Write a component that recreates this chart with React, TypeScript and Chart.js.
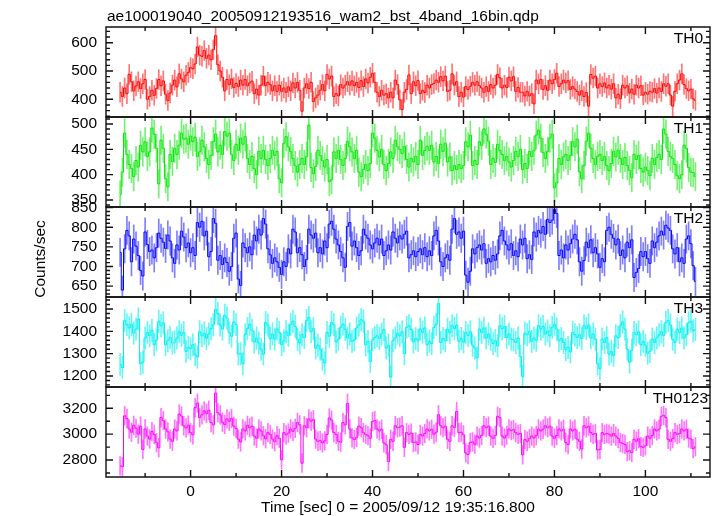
import React, { useEffect, useRef } from 'react';
import { Chart, registerables } from 'chart.js';

Chart.register(...registerables);

const TITLE = 'ae100019040_20050912193516_wam2_bst_4band_16bin.qdp';
const X_TITLE = 'Time [sec] 0 = 2005/09/12 19:35:16.800';
const Y_TITLE = 'Counts/sec';
const FAMILY = '"Liberation Sans", Arial, Helvetica, sans-serif';
const FONT_SIZE = 15.5;

// time grid: first bin centre and bin width (sec)
const T_START = -15.5;
const BIN = 0.5;
const X_MIN = -18.6;
const X_MAX = 114.2;
const xTicks = [0, 20, 40, 60, 80, 100];

const th0 = [
  425, 410, 440, 420, 488, 462, 430, 447, 462, 438,
  455, 470, 400, 410, 432, 414, 438, 470, 448, 465,
  418, 396, 422, 450, 468, 444, 490, 472, 462, 485,
  495, 512, 508, 525, 585, 556, 552, 572, 545, 556,
  540, 575, 625, 522, 500, 478, 430, 470, 452, 472,
  442, 456, 445, 468, 450, 470, 448, 458, 464, 420,
  436, 415, 450, 482, 448, 460, 452, 430, 448, 428,
  450, 428, 440, 425, 444, 430, 458, 440, 460, 432,
  358, 440, 455, 438, 460, 392, 405, 415, 432, 452,
  430, 488, 472, 482, 410, 420, 412, 452, 440, 450,
  462, 450, 465, 448, 460, 442, 466, 445, 472, 458,
  478, 492, 460, 425, 410, 432, 415, 420, 405, 425,
  405, 468, 452, 398, 364, 425, 435, 486, 420, 462,
  448, 466, 420, 432, 424, 450, 440, 452, 456, 468,
  460, 480, 465, 482, 428, 432, 490, 450, 462, 410,
  425, 408, 445, 435, 446, 460, 450, 462, 448, 440,
  425, 445, 428, 452, 440, 450, 488, 476, 440, 450,
  442, 478, 465, 480, 428, 442, 425, 425, 412, 428,
  412, 420, 384, 468, 455, 470, 435, 448, 432, 468,
  455, 470, 492, 445, 455, 468, 458, 466, 435, 445,
  436, 428, 415, 430, 410, 424, 376, 488, 475, 482,
  440, 455, 445, 458, 440, 450, 436, 455, 405, 418,
  402, 450, 440, 448, 422, 436, 418, 450, 440, 448,
  415, 425, 418, 428, 425, 438, 422, 440, 428, 455,
  446, 455, 415, 376, 428, 455, 468, 490, 452, 438,
  430, 436, 402, 396,
];

const th1 = [
  360, 405, 482, 440, 420, 412, 396, 428, 415, 458,
  445, 465, 436, 445, 492, 480, 452, 382, 468, 452,
  392, 376, 440, 426, 452, 440, 458, 482, 470, 472,
  460, 476, 465, 474, 436, 445, 468, 455, 432, 420,
  438, 465, 480, 445, 458, 440, 485, 476, 482, 440,
  428, 460, 448, 472, 460, 475, 432, 420, 436, 412,
  400, 446, 432, 448, 430, 418, 432, 448, 438, 446,
  392, 384, 462, 475, 455, 446, 432, 418, 405, 420,
  432, 420, 436, 498, 414, 402, 416, 448, 438, 428,
  415, 430, 386, 390, 445, 432, 448, 430, 418, 432,
  466, 455, 445, 432, 448, 405, 396, 410, 420, 408,
  422, 482, 472, 448, 435, 450, 420, 408, 422, 445,
  432, 468, 455, 450, 442, 456, 430, 415, 432, 425,
  436, 420, 468, 438, 448, 456, 448, 458, 425, 436,
  422, 460, 446, 462, 425, 435, 408, 418, 410, 420,
  412, 418, 465, 455, 478, 418, 428, 420, 465, 458,
  490, 480, 466, 420, 432, 424, 460, 448, 440, 428,
  436, 425, 415, 428, 446, 436, 450, 410, 422, 412,
  446, 436, 448, 478, 488, 472, 444, 432, 446, 472,
  480, 374, 384, 432, 420, 435, 440, 428, 438, 465,
  455, 470, 406, 392, 418, 466, 482, 452, 432, 420,
  436, 440, 428, 436, 418, 408, 422, 446, 435, 448,
  432, 420, 434, 418, 408, 394, 440, 430, 438, 412,
  405, 415, 408, 398, 432, 420, 434, 440, 430, 490,
  480, 446, 436, 432, 420, 398, 392, 400, 458, 452,
  414, 405, 404, 396,
];

const th2 = [
  736, 640, 745, 792, 778, 712, 770, 752, 728, 690,
  676, 788, 756, 738, 742, 722, 748, 785, 772, 762,
  746, 780, 765, 722, 708, 755, 742, 790, 775, 748,
  760, 735, 748, 728, 812, 800, 815, 778, 790, 725,
  738, 822, 810, 716, 728, 705, 722, 710, 688, 700,
  772, 785, 668, 652, 760, 748, 735, 750, 730, 780,
  765, 795, 780, 822, 808, 745, 730, 708, 722, 712,
  698, 680, 712, 700, 745, 732, 795, 788, 735, 748,
  730, 700, 718, 795, 780, 772, 785, 735, 748, 732,
  765, 748, 808, 815, 795, 770, 755, 738, 722, 698,
  802, 812, 752, 765, 748, 728, 740, 795, 780, 772,
  755, 745, 760, 772, 755, 770, 728, 740, 755, 742,
  788, 772, 760, 778, 770, 782, 790, 722, 730, 740,
  725, 738, 745, 730, 748, 725, 740, 728, 778, 792,
  765, 712, 700, 722, 730, 716, 795, 822, 782, 788,
  772, 790, 678, 660, 688, 745, 732, 748, 755, 742,
  758, 708, 720, 712, 728, 716, 732, 778, 792, 765,
  755, 742, 758, 728, 740, 725, 770, 755, 772, 720,
  730, 718, 788, 775, 792, 785, 802, 782, 820, 812,
  818, 845, 835, 728, 742, 722, 755, 742, 758, 770,
  782, 768, 712, 688, 715, 762, 748, 768, 735, 748,
  732, 698, 720, 712, 792, 800, 782, 772, 755, 770,
  728, 742, 722, 762, 748, 768, 672, 685, 695, 738,
  725, 738, 720, 708, 765, 748, 762, 778, 790, 780,
  805, 798, 792, 745, 732, 748, 712, 722, 708, 770,
  778, 758, 702, 662,
];

const th3 = [
  1252, 1238, 1448, 1430, 1415, 1432, 1392, 1410, 1455, 1255,
  1262, 1370, 1395, 1380, 1405, 1340, 1362, 1445, 1425, 1438,
  1340, 1358, 1372, 1348, 1352, 1370, 1398, 1382, 1395, 1310,
  1328, 1322, 1340, 1296, 1285, 1398, 1380, 1392, 1368, 1388,
  1412, 1430, 1498, 1480, 1428, 1410, 1472, 1460, 1395, 1378,
  1442, 1430, 1298, 1300, 1255, 1385, 1412, 1432, 1405, 1352,
  1370, 1348, 1320, 1298, 1440, 1428, 1368, 1388, 1365, 1410,
  1395, 1340, 1358, 1398, 1382, 1430, 1445, 1422, 1365, 1348,
  1385, 1372, 1448, 1462, 1398, 1412, 1325, 1338, 1320, 1275,
  1258, 1395, 1378, 1440, 1430, 1352, 1365, 1418, 1432, 1408,
  1370, 1388, 1355, 1362, 1415, 1428, 1452, 1445, 1340, 1355,
  1265, 1362, 1372, 1380, 1368, 1388, 1408, 1325, 1338, 1195,
  1358, 1370, 1392, 1380, 1398, 1300, 1418, 1425, 1408, 1352,
  1368, 1360, 1410, 1395, 1415, 1340, 1356, 1345, 1418, 1432,
  1525, 1350, 1368, 1358, 1410, 1395, 1425, 1412, 1428, 1355,
  1368, 1352, 1395, 1382, 1398, 1338, 1325, 1282, 1410, 1395,
  1415, 1370, 1388, 1365, 1345, 1358, 1335, 1425, 1412, 1422,
  1372, 1388, 1365, 1362, 1350, 1370, 1288, 1198, 1392, 1385,
  1398, 1355, 1370, 1360, 1425, 1410, 1422, 1388, 1402, 1380,
  1418, 1432, 1410, 1358, 1368, 1350, 1318, 1328, 1308, 1395,
  1385, 1372, 1385, 1368, 1425, 1412, 1428, 1370, 1388, 1365,
  1255, 1232, 1365, 1350, 1372, 1298, 1310, 1292, 1380, 1372,
  1425, 1442, 1410, 1320, 1262, 1315, 1395, 1385, 1398, 1340,
  1355, 1338, 1302, 1310, 1365, 1350, 1370, 1385, 1398, 1382,
  1440, 1448, 1428, 1365, 1350, 1410, 1395, 1415, 1370, 1385,
  1438, 1445, 1402, 1408,
];

const th0123 = [
  2755, 2748, 3142, 3120, 3040, 3015, 3068, 3045, 3000, 3062,
  2882, 3040, 2985, 2962, 3020, 2998, 2935, 2895, 3128, 3105,
  3040, 3018, 2962, 2945, 3040, 3025, 3155, 3140, 3065, 3048,
  3070, 3012, 2995, 3205, 3240, 3128, 3150, 3180, 3160, 3185,
  3090, 3072, 3318, 3165, 3150, 3092, 3075, 3118, 3100, 3122,
  3062, 3045, 2962, 2940, 3040, 3025, 3068, 3050, 3062, 2985,
  2968, 3040, 3025, 2988, 2965, 3012, 2998, 2962, 2942, 2988,
  2968, 2802, 3012, 2995, 3008, 3040, 3022, 3045, 3090, 3072,
  2775, 3065, 3050, 3118, 3100, 3112, 2962, 2945, 2950, 2932,
  2948, 2998, 3125, 3108, 3012, 2998, 2945, 2938, 3090, 3072,
  3238, 3040, 2972, 2958, 2975, 3062, 3050, 3012, 2998, 2988,
  2968, 3098, 3105, 3040, 3025, 3038, 2932, 2918, 2788, 2960,
  2945, 3065, 3050, 3055, 3065, 2898, 3012, 2998, 3008, 2935,
  2940, 2920, 2998, 2985, 3005, 3040, 3025, 3038, 3000, 3015,
  3150, 3065, 3050, 3062, 2960, 2945, 3065, 3052, 3175, 3012,
  3015, 2995, 2855, 2842, 2935, 2940, 2922, 2985, 2970, 2990,
  3065, 3050, 3062, 2985, 2968, 2990, 3138, 3128, 2985, 2970,
  2992, 3040, 3028, 3035, 3012, 2998, 3005, 2840, 2958, 2945,
  2965, 2985, 2970, 2990, 3040, 3025, 3038, 3065, 3050, 3062,
  2985, 2968, 2990, 3040, 3025, 3038, 2935, 2920, 3040, 3025,
  3038, 2962, 2945, 2885, 3065, 3050, 3062, 3012, 2998, 3005,
  2878, 2882, 3012, 2998, 3005, 3000, 2985, 3005, 2985, 2968,
  2935, 2928, 2920, 2865, 2872, 2858, 2960, 2945, 2965, 2905,
  2898, 2910, 2985, 2968, 2990, 3040, 3025, 3038, 3138, 3145,
  3128, 2960, 2945, 2965, 3012, 2998, 3005, 3040, 3025, 3038,
  2970, 2962, 2888, 2902,
];

// y tick labels per panel
const ticksTH0 = [400, 500, 600];
const ticksTH1 = [350, 400, 450, 500];
const ticksTH2 = [650, 700, 750, 800, 850];
const ticksTH3 = [1200, 1300, 1400, 1500];
const ticksTH0123 = [2800, 3000, 3200];

const panelLabels = ['TH0', 'TH1', 'TH2', 'TH3', 'TH0123'];
const panelSeries = [th0, th1, th2, th3, th0123];
const panelTicks = [ticksTH0, ticksTH1, ticksTH2, ticksTH3, ticksTH0123];
const panelErrors = [35, 28, 36, 50, 72];
const yMins = [337.5, 336.2, 622.4, 1150.7, 2668.5];
const yMaxs = [655.5, 513.8, 851.5, 1553.7, 3364.8];
const majorSteps = [100, 50, 50, 100, 200];
const minorSteps = [20, 10, 10, 20, 100];
const lineColors = ['#ff0000', '#00e800', '#0000ff', '#00f0f0', '#ff00ff'];
const barColors = [
  'rgba(255,0,0,0.55)',
  'rgba(0,230,0,0.55)',
  'rgba(0,0,255,0.5)',
  'rgba(0,240,240,0.6)',
  'rgba(255,0,255,0.55)',
];
const labelInsets = [7, 7, 7, 7, 2];

const times = th0.map((_, i) => T_START + i * BIN);

const FONT = { family: FAMILY, size: FONT_SIZE };

const qdpPlugin = {
  id: 'qdpFrame',
  afterDraw(chart: any) {
    const ctx = chart.ctx as CanvasRenderingContext2D;
    const xs = chart.scales.x;
    ctx.save();
    ctx.strokeStyle = '#111';
    ctx.lineWidth = 1.4;
    ctx.fillStyle = '#000';
    ctx.font = `${FONT_SIZE}px ${FAMILY}`;
    panelLabels.forEach((lab, p) => {
      const ys = chart.scales['y' + p];
      const L = xs.left, R = xs.right, T = ys.top, B = ys.bottom;
      ctx.beginPath();
      ctx.rect(L, T, R - L, B - T);
      const mn = minorSteps[p];
      const mj = majorSteps[p];
      for (let v = Math.ceil(ys.min / mn) * mn; v <= ys.max; v += mn) {
        const y = ys.getPixelForValue(v);
        const isMajor = Math.abs(v / mj - Math.round(v / mj)) < 1e-6;
        const len = isMajor ? 7 : 4;
        ctx.moveTo(L, y); ctx.lineTo(L + len, y);
        ctx.moveTo(R, y); ctx.lineTo(R - len, y);
      }
      for (let t = Math.ceil(xs.min / 10) * 10; t <= xs.max; t += 10) {
        const x = xs.getPixelForValue(t);
        const len = Math.abs(t % 20) < 1e-6 ? 7 : 4;
        ctx.moveTo(x, T); ctx.lineTo(x, T + len);
        ctx.moveTo(x, B); ctx.lineTo(x, B - len);
      }
      ctx.stroke();
      ctx.textAlign = 'right';
      ctx.textBaseline = 'alphabetic';
      ctx.fillText(lab, R - labelInsets[p], T + 16);
    });
    // plot title
    ctx.textAlign = 'left';
    ctx.textBaseline = 'alphabetic';
    ctx.fillText(TITLE, xs.left + 1, chart.chartArea.top - 6.5);
    // x-axis title
    ctx.textAlign = 'center';
    ctx.fillText(X_TITLE, (xs.left + xs.right) / 2 - 10, chart.height - 4.5);
    // y-axis title
    ctx.save();
    ctx.translate(41, (chart.chartArea.top + chart.chartArea.bottom) / 2 + 7);
    ctx.rotate(-Math.PI / 2);
    ctx.textAlign = 'center';
    ctx.textBaseline = 'middle';
    ctx.fillText(Y_TITLE, 0, 0);
    ctx.restore();
    ctx.restore();
  },
};

export default function App() {
  const ref = useRef<HTMLCanvasElement>(null);

  useEffect(() => {
    const datasets: any[] = [];
    const scales: any = {
      x: {
        type: 'linear',
        position: 'bottom',
        min: X_MIN,
        max: X_MAX,
        offset: false,
        grid: { display: false, drawTicks: false, offset: false },
        border: { display: false },
        afterBuildTicks: (s: any) => { s.ticks = xTicks.map((v) => ({ value: v })); },
        ticks: {
          padding: 5,
          color: '#000',
          font: FONT,
          maxRotation: 0,
          autoSkip: false,
          callback: (v: any) => String(v),
        },
        afterFit: (s: any) => { s.height = 39; },
      },
    };

    panelSeries.forEach((vals, p) => {
      const yID = 'y' + p;
      const err = panelErrors[p];
      datasets.push({
        type: 'bar',
        xAxisID: 'x',
        yAxisID: yID,
        order: 2,
        grouped: false,
        barThickness: 1,
        borderWidth: 0,
        backgroundColor: barColors[p],
        clip: 0,
        data: vals.map((v, i) => ({ x: times[i], y: [v - err, v + err] })),
      });
      datasets.push({
        type: 'line',
        xAxisID: 'x',
        yAxisID: yID,
        order: 1,
        stepped: 'middle',
        borderColor: lineColors[p],
        borderWidth: 1,
        pointRadius: 0,
        fill: false,
        clip: 0,
        data: vals.map((v, i) => ({ x: times[i], y: v })),
      });
      const tickVals = panelTicks[p];
      scales[yID] = {
        type: 'linear',
        position: 'left',
        stack: 'panels',
        stackWeight: 1,
        weight: 10 - p,
        min: yMins[p],
        max: yMaxs[p],
        beginAtZero: false,
        offset: false,
        grid: { display: false, drawTicks: false },
        border: { display: false },
        afterBuildTicks: (s: any) => { s.ticks = tickVals.map((v) => ({ value: v })); },
        ticks: {
          padding: 9,
          color: '#000',
          font: FONT,
          autoSkip: false,
          callback: (v: any) => String(v),
        },
        title: { display: false },
        afterFit: (s: any) => { s.width = 106; },
      };
    });

    const chart = new Chart(ref.current as HTMLCanvasElement, {
      type: 'line',
      data: { datasets },
      options: {
        responsive: false,
        animation: false,
        devicePixelRatio: 1,
        events: [],
        layout: { padding: { top: 27, right: 7, bottom: 0, left: 0 } },
        plugins: {
          legend: { display: false },
          tooltip: { enabled: false },
          title: { display: false },
        },
        scales,
      } as any,
      plugins: [qdpPlugin],
    } as any);

    return () => chart.destroy();
  }, []);

  return (
    <div style={{ position: 'absolute', left: 0, top: 0, width: 717, height: 516, background: '#fff' }}>
      <canvas ref={ref} width={717} height={516} style={{ display: 'block', width: 717, height: 516 }} />
    </div>
  );
}
